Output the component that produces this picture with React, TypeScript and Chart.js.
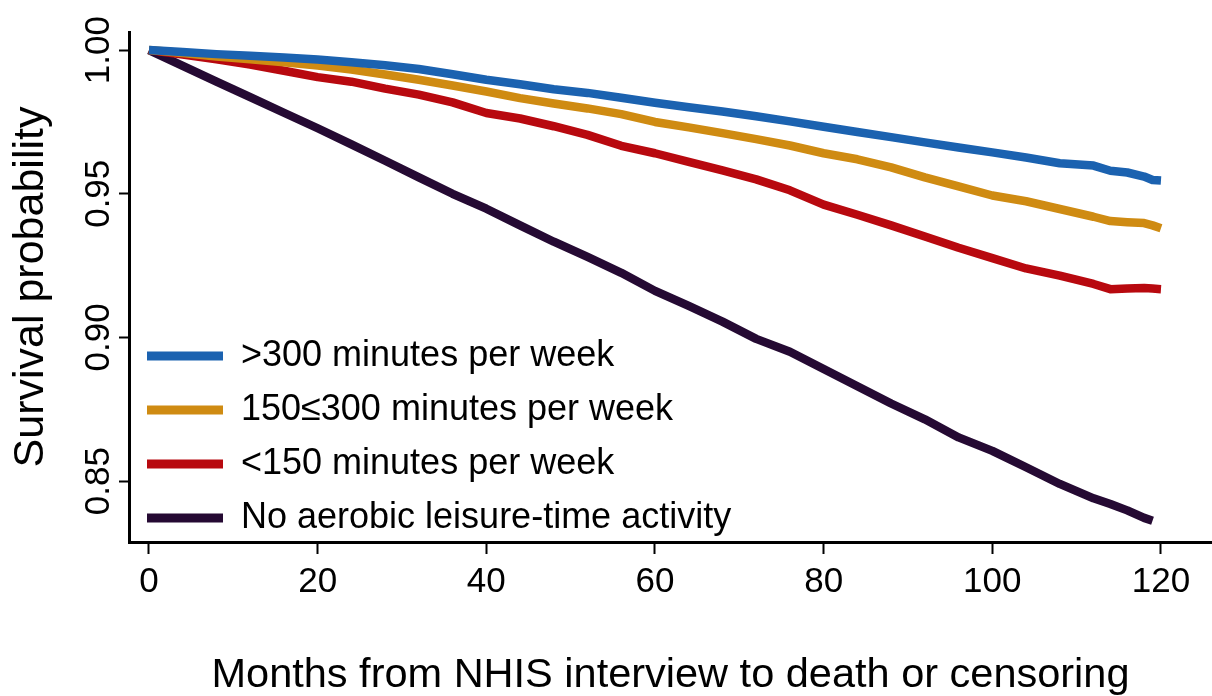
import React, { useEffect, useRef } from "react";
import { Chart, registerables } from "chart.js";

Chart.register(...registerables);

// ---- Data ----
const months = [0, 4, 8, 12, 16, 20, 24, 28, 32, 36, 40, 44, 48, 52, 56, 60, 64, 68, 72, 76, 80, 84, 88, 92, 96, 100, 104, 108, 112, 114, 116, 118, 119, 120];

const over300 = [1.0, 0.9993, 0.9986, 0.998, 0.9974, 0.9967, 0.9958, 0.9947, 0.9934, 0.9916, 0.9897, 0.9881, 0.9864, 0.9851, 0.9834, 0.9817, 0.9801, 0.9786, 0.977, 0.9752, 0.9733, 0.9715, 0.9697, 0.9679, 0.9661, 0.9644, 0.9626, 0.9606, 0.9598, 0.958, 0.9574, 0.956, 0.9548, 0.9546];

const from150to300 = [1.0, 0.999, 0.9978, 0.9968, 0.9958, 0.9946, 0.9932, 0.9915, 0.9897, 0.9877, 0.9856, 0.9833, 0.9814, 0.9797, 0.9777, 0.975, 0.9731, 0.9711, 0.969, 0.9668, 0.9641, 0.962, 0.9592, 0.9557, 0.9526, 0.9494, 0.9474, 0.9447, 0.942, 0.9405, 0.9401, 0.9398, 0.939, 0.938];

const under150 = [1.0, 0.9985, 0.9968, 0.995, 0.9928, 0.9906, 0.989, 0.9866, 0.9845, 0.9818, 0.9781, 0.9762, 0.9735, 0.9705, 0.9667, 0.9641, 0.9611, 0.9581, 0.955, 0.9512, 0.9462, 0.9427, 0.939, 0.9351, 0.9312, 0.9276, 0.924, 0.9215, 0.9186, 0.9168, 0.917, 0.9172, 0.917, 0.9168];

const noActivity = [1.0, 0.9945, 0.989, 0.9836, 0.9782, 0.9728, 0.9672, 0.9615, 0.9557, 0.95, 0.9448, 0.939, 0.9333, 0.928, 0.9225, 0.9162, 0.911, 0.9055, 0.8995, 0.895, 0.889, 0.883, 0.877, 0.8715, 0.8652, 0.8605, 0.8548, 0.849, 0.844, 0.842, 0.8398, 0.8372, 0.8362, null];

const seriesLabels = [">300 minutes per week", "150\u2264300 minutes per week", "<150 minutes per week", "No aerobic leisure-time activity"];
const seriesColors = ["#1b62b0", "#cf8b12", "#b8090f", "#250a33"];
const xTicks = [0, 20, 40, 60, 80, 100, 120];
const yTicks = [0.85, 0.9, 0.95, 1.0];
const xTitle = "Months from NHIS interview to death or censoring";
const yTitle = "Survival probability";

const FONT = "'Liberation Sans', Arial, Helvetica, sans-serif";
const LEGEND_SHIFT = 12;

const legendPlacer = {
  id: "legendPlacer",
  afterLayout(chart: any) {
    const lg = chart.legend;
    const ca = chart.chartArea;
    if (lg && ca) {
      lg.left = ca.left;
      lg.right = ca.right;
      lg.top = ca.top;
      lg.bottom = ca.bottom + LEGEND_SHIFT;
    }
  },
};

export default function App() {
  const canvasRef = useRef<HTMLCanvasElement | null>(null);

  useEffect(() => {
    document.body.style.margin = "0";
    const canvas = canvasRef.current;
    if (!canvas) return;
    const allSeries = [over300, from150to300, under150, noActivity];
    const datasets = allSeries.map((vals, i) => ({
      label: seriesLabels[i],
      data: months.map((m, j) => ({ x: m, y: vals[j] })),
      borderColor: seriesColors[i],
      backgroundColor: seriesColors[i],
      borderWidth: 8.5,
      pointRadius: 0,
      pointHoverRadius: 0,
      tension: 0,
      borderJoinStyle: "round" as const,
      spanGaps: false,
    }));

    const chart = new Chart(canvas, {
      type: "line",
      data: { datasets },
      plugins: [legendPlacer],
      options: {
        animation: false,
        responsive: false,
        events: [],
        layout: { padding: { top: 32, right: 0, bottom: 0, left: 0 } },
        font: { family: FONT },
        plugins: {
          tooltip: { enabled: false },
          legend: {
            display: true,
            position: "chartArea",
            align: "end",
            labels: {
              boxWidth: 76,
              boxHeight: 9,
              padding: 18,
              color: "#000",
              font: { size: 36, family: FONT },
              generateLabels: (ch: any) =>
                ch.data.datasets.map((ds: any, i: number) => ({
                  text: ds.label,
                  fillStyle: ds.borderColor,
                  strokeStyle: ds.borderColor,
                  lineWidth: 0,
                  hidden: false,
                  datasetIndex: i,
                  fontColor: "#000",
                })),
            },
          },
        },
        scales: {
          x: {
            type: "linear",
            min: -2.37,
            max: 126.05,
            afterBuildTicks: (scale: any) => {
              scale.ticks = xTicks.map((v) => ({ value: v }));
            },
            afterFit: (scale: any) => {
              scale.height = 154;
            },
            grid: {
              display: true,
              drawOnChartArea: false,
              drawTicks: true,
              tickLength: 12,
              tickWidth: 2,
              tickColor: "#000",
            },
            border: { display: true, color: "#000", width: 3 },
            ticks: {
              color: "#000",
              padding: 7,
              maxRotation: 0,
              minRotation: 0,
              font: { size: 35, family: FONT },
              callback: (v: any) => String(v),
            },
            title: {
              display: true,
              text: xTitle,
              color: "#000",
              padding: { top: 0, bottom: 0 },
              font: { size: 41.5, family: FONT, lineHeight: 1 },
            },
          },
          y: {
            type: "linear",
            min: 0.8288,
            max: 1.0063,
            afterBuildTicks: (scale: any) => {
              scale.ticks = yTicks.map((v) => ({ value: v }));
            },
            afterFit: (scale: any) => {
              scale.width = 129;
            },
            grid: {
              display: true,
              drawOnChartArea: false,
              drawTicks: true,
              tickLength: 10,
              tickWidth: 2,
              tickColor: "#000",
            },
            border: { display: true, color: "#000", width: 3 },
            ticks: {
              color: "#000",
              padding: -14,
              crossAlign: "center",
              minRotation: 90,
              maxRotation: 90,
              font: { size: 35, family: FONT },
              callback: (v: any) => Number(v).toFixed(2),
            },
            title: {
              display: true,
              text: yTitle,
              color: "#000",
              padding: { top: 10, bottom: 0 },
              font: { size: 43, family: FONT, lineHeight: 1 },
            },
          },
        },
      },
    } as any);

    return () => {
      chart.destroy();
    };
  }, []);

  return (
    <div style={{ width: 1212, height: 696, background: "#fff" }}>
      <canvas ref={canvasRef} width={1212} height={696} style={{ display: "block" }} />
    </div>
  );
}
